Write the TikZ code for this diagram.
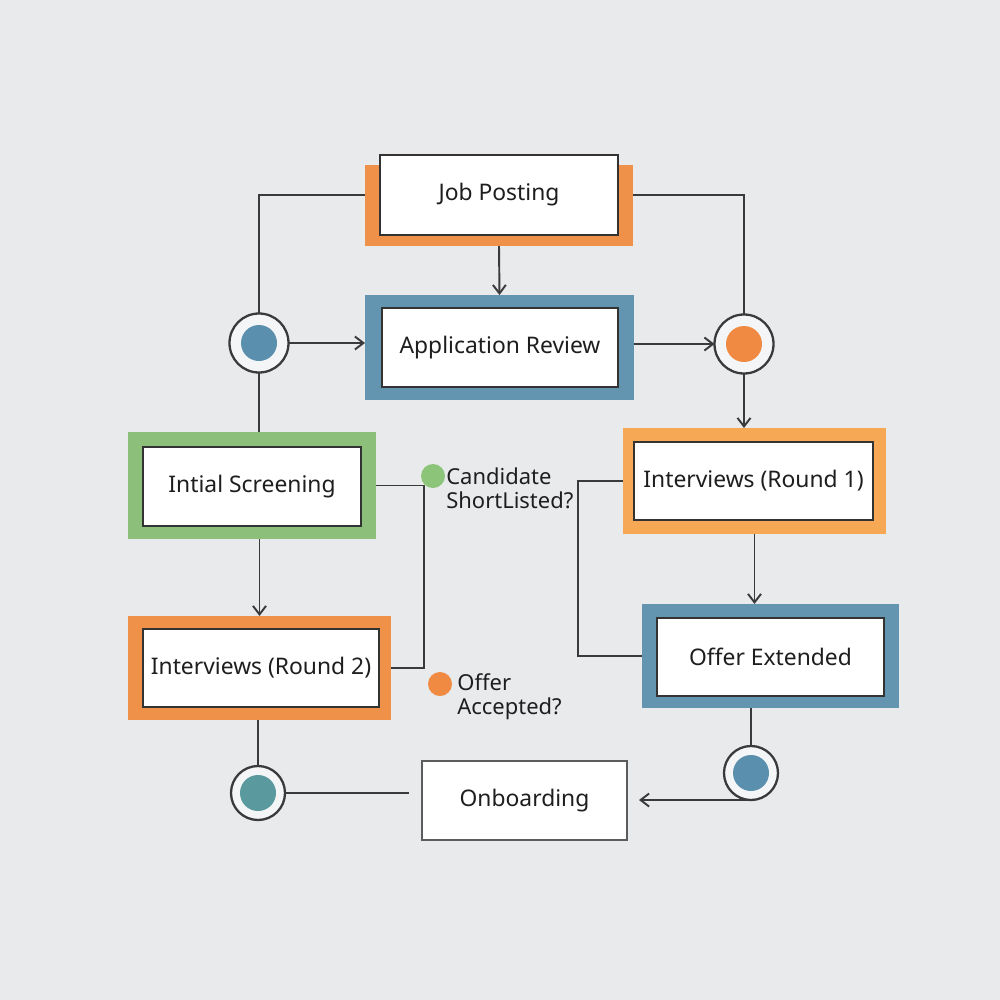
\documentclass[tikz,border=0pt]{standalone}
\usepackage{fontspec}
\setmainfont{Noto Sans}
\usetikzlibrary{arrows.meta}
\definecolor{bgcol}{HTML}{E9EAEC}
\definecolor{orangeA}{HTML}{F0914A}
\definecolor{orangeB}{HTML}{F6A855}
\definecolor{blueA}{HTML}{6394B0}
\definecolor{greenA}{HTML}{8CC07A}
\definecolor{dotblue}{HTML}{5B8FAE}
\definecolor{dotteal}{HTML}{5A9A9E}
\definecolor{dotorange}{HTML}{F08A42}
\definecolor{dotgreen}{HTML}{8CC47A}
\definecolor{boxline}{HTML}{333333}
\definecolor{linecol}{HTML}{3A3A3A}
\definecolor{ringfill}{HTML}{F4F5F6}
\definecolor{textcol}{HTML}{1E1E1E}

\begin{document}
\begin{tikzpicture}[x=0.2mm, y=-0.2mm,
  >={Straight Barb[length=1.7mm,width=2.6mm]},
  frame/.style={inner sep=0pt, outer sep=0pt},
  box/.style={draw=boxline, line width=1.1pt, fill=white, inner sep=0pt, outer sep=0pt,
    font=\fontsize{13}{15}\selectfont, text=textcol},
  link/.style={draw=linecol, line width=1.1pt},
  ring/.style={circle, draw=linecol, line width=1.3pt, fill=ringfill, inner sep=0pt, outer sep=0pt},
  dot/.style={circle, inner sep=0pt},
  note/.style={align=left, anchor=west, inner sep=0pt, text=textcol,
    font=\fontsize{12.5}{13.5}\selectfont}]
  \fill[bgcol] (0,0) rectangle (1000,1000);
  \node[frame, fill=orangeA, minimum width=53.6mm, minimum height=16.2mm] (jobF) at (499,205.5) {};
  \node[frame, fill=blueA, minimum width=53.8mm, minimum height=21mm] (appF) at (499.5,347.5) {};
  \node[frame, fill=greenA, minimum width=49.6mm, minimum height=21.4mm] (scrF) at (252,485.5) {};
  \node[frame, fill=orangeA, minimum width=52.6mm, minimum height=20.8mm] (int2F) at (259.5,668) {};
  \node[frame, fill=orangeB, minimum width=52.6mm, minimum height=21.2mm] (int1F) at (754.5,481) {};
  \node[frame, fill=blueA, minimum width=51.4mm, minimum height=20.8mm] (offF) at (770.5,656) {};
  \node[box, minimum width=47.6mm, minimum height=16mm] (job) at (499,195) {Job Posting};
  \node[box, minimum width=47.2mm, minimum height=15.8mm] (app) at (500,347.5) {Application Review};
  \node[box, minimum width=43.6mm, minimum height=15.8mm] (scr) at (252,486.5) {Intial Screening};
  \node[box, minimum width=47.2mm, minimum height=15.6mm] (int2) at (261,668) {Interviews (Round 2)};
  \node[box, minimum width=47.8mm, minimum height=15.6mm] (int1) at (753.5,481) {Interviews (Round 1)};
  \node[box, minimum width=45.4mm, minimum height=15.6mm] (off) at (770.5,657) {Offer Extended};
  \node[box, draw=boxline!80, minimum width=41mm, minimum height=15.8mm] (onb) at (524.5,800.5) {Onboarding};
  \node[ring, minimum size=11.8mm] (cl) at (259,343) {};
  \node[ring, minimum size=11.8mm] (cr) at (744,344) {};
  \node[ring, minimum size=10.8mm] (cbl) at (258,793) {};
  \node[ring, minimum size=10.8mm] (cbr) at (751,773) {};
  \node[dot, fill=dotblue, minimum size=7.2mm] (cldot) at (cl) {};
  \node[dot, fill=dotorange, minimum size=7.2mm] (crdot) at (cr) {};
  \node[dot, fill=dotteal, minimum size=7.2mm] (cbldot) at (cbl) {};
  \node[dot, fill=dotblue, minimum size=7.2mm] (cbrdot) at (cbr) {};
  \coordinate (sj) at (424,0);
  \coordinate (rj) at (578,0);
  \draw[link] (jobF.west |- job.west) -| (cl.north);
  \draw[link] (jobF.east |- job.east) -| (cr.north);
  \draw[link, ->] (jobF.south) -- (appF.north);
  \draw[link, ->] (cl.east) -- (appF.west |- cl.east);
  \draw[link, ->] (appF.east |- cr.west) -- (cr.west);
  \draw[link] (cl.south) -- (cl.south |- scrF.north);
  \draw[link, ->] (cr.south) -- (cr.south |- int1F.north);
  \draw[link] (scrF.east) -| (sj |- int2F.east) -- (int2F.east);
  \draw[link, ->] (int2F.north |- scrF.south) -- (int2F.north);
  \draw[link] (int1F.west) -| (rj |- offF.west) -- (offF.west);
  \draw[link, ->] (int1F.south) -- (int1F.south |- offF.north);
  \draw[link] (offF.south -| cbr.north) -- (cbr.north);
  \draw[link] (int2F.south -| cbl.north) -- (cbl.north);
  \draw[link, shorten >=2.6mm] (cbl.east) -- (onb.west |- cbl.east);
  \draw[link, ->, shorten >=2.4mm] (cbr.south) -- (onb.east |- cbr.south);
  \node[dot, fill=dotgreen, minimum size=4.8mm] (gdot) at (433,476) {};
  \node[dot, fill=dotorange, minimum size=4.8mm] (odot) at (440,684) {};
  \node[note] (shortl) at (446,488) {Candidate\\ShortListed?};
  \node[note] (accept) at (457,697) {Offer\\Accepted?};
\end{tikzpicture}
\end{document}
